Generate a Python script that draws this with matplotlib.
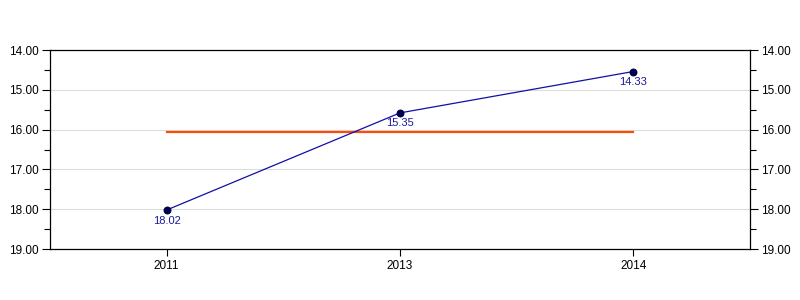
import numpy as np
import matplotlib.pyplot as plt
from matplotlib.ticker import MultipleLocator, FormatStrFormatter

plt.rcParams['font.family'] = ['Liberation Sans', 'DejaVu Sans']

# data (point positions and their printed labels)
years = ['2011', '2013', '2014']
values = [18.02, 15.58, 14.54]
labels = ['18.02', '15.35', '14.33']
reference_level = 16.06

fig = plt.figure(figsize=(8, 3), dpi=100)
ax = fig.add_axes([0.0625, 0.17, 0.875, 0.6633])

x = np.arange(len(years))

# horizontal reference line
ax.plot([x[0], x[-1]], [reference_level, reference_level], color='#ff4a0a', lw=1.6, zorder=2)

# main series
ax.plot(x, values, color='#1010a8', lw=0.9, zorder=3)
ax.scatter(x, values, s=26, color='#00005a', edgecolors='#000030', linewidths=0.6, zorder=4)
for xi, v, t in zip(x, values, labels):
    ax.annotate(t, (xi, v), xytext=(0, -4), textcoords='offset points',
                ha='center', va='top', fontsize=8, color='#1a1a9a')

ax.set_xlim(-0.5, len(years) - 0.5)
ax.set_ylim(19, 14)
ax.set_xticks(x)
ax.set_xticklabels(years)

ax.yaxis.set_major_locator(MultipleLocator(1))
ax.yaxis.set_minor_locator(MultipleLocator(0.5))
ax.yaxis.set_major_formatter(FormatStrFormatter('%.2f'))
ax.tick_params(axis='y', which='both', left=True, right=True, labelleft=True, labelright=True,
               direction='out', labelsize=8.5, pad=2)
ax.tick_params(axis='y', which='major', length=6, width=0.8)
ax.tick_params(axis='y', which='minor', length=4, width=0.8)
ax.tick_params(axis='x', which='major', length=5, width=0.8, labelsize=8.5, pad=3)

ax.grid(axis='y', which='major', color='#dcdcdc', lw=0.8)
ax.set_axisbelow(True)
for s in ax.spines.values():
    s.set_linewidth(0.9)

fig.savefig('out.png', dpi=100)
